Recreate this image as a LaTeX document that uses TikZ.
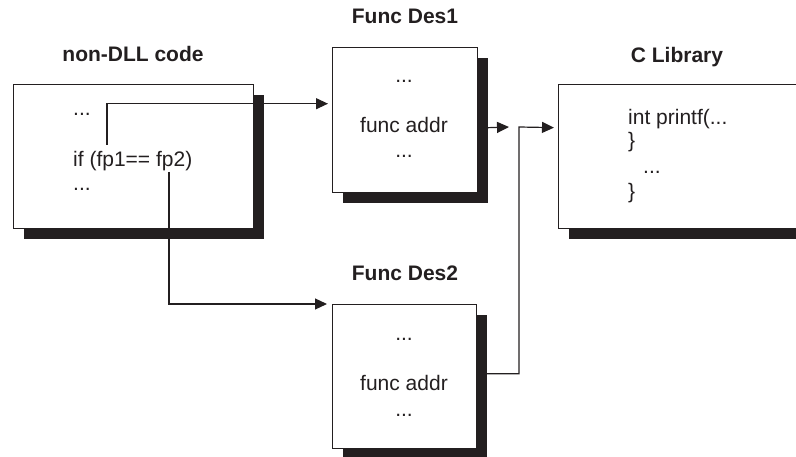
\documentclass[tikz,border=0pt]{standalone}
\usepackage{fontspec}
\setmainfont{Liberation Sans}
\usetikzlibrary{arrows.meta,shadows}
\definecolor{inkdark}{HTML}{231F20}
\tikzset{
  codebox/.style={draw=inkdark, line width=1.4pt, fill=white, anchor=north west, inner sep=0pt,
    drop shadow={shadow xshift=10pt, shadow yshift=-10pt, fill=inkdark, opacity=1}},
  codetext/.style={inner sep=0pt, text=inkdark, font=\fontsize{21}{25}\selectfont},
  boxtitle/.style={inner sep=0pt, text=inkdark, anchor=base, font=\fontsize{21}{25}\selectfont\bfseries},
  conn/.style={draw=inkdark, line width=1.2pt, -{Triangle[length=12pt,width=11pt]}},
}
\begin{document}
\begin{tikzpicture}[x=1pt, y=-1pt]
\useasboundingbox (0,0) rectangle (796,457);
\clip (0,0) rectangle (796,457);
%% boxes
\node [codebox, minimum width=240pt, minimum height=144pt] (code) at (13,84) {};
\node [codebox, minimum width=145pt, minimum height=145pt] (des1) at (332,47) {};
\node [codebox, minimum width=250pt, minimum height=144pt] (clib) at (558,84) {};
\node [codebox, minimum width=144pt, minimum height=144pt] (des2) at (332,304) {};
%% titles
\node [boxtitle] (codetitle) at (133,62) {non-DLL code};
\node [boxtitle] (des1title) at (405,24) {Func Des1};
\node [boxtitle] (clibtitle) at (677,63) {C Library};
\node [boxtitle] (des2title) at (405,281) {Func Des2};
%% non-DLL code
\node [codetext, anchor=base west] (codedotsa) at (73,116) {...};
\node [codetext, anchor=base west] (codeif) at (73,167) {if (fp1== fp2)};
\node [codetext, anchor=base west] (codedotsb) at (73,191) {...};
%% Func Des1
\node [codetext, anchor=base] (des1dotsa) at (404,83) {...};
\node [codetext, anchor=base] (des1addr) at (404,133) {func addr};
\node [codetext, anchor=base] (des1dotsb) at (404,158) {...};
%% C Library
\node [codetext, anchor=base west] (clibint) at (628,125) {int printf(...};
\node [codetext, anchor=base west] (clibbra) at (628,148) {\}};
\node [codetext, anchor=base west] (clibdots) at (643,174) {...};
\node [codetext, anchor=base west] (clibbrb) at (628,199) {\}};
%% Func Des2
\node [codetext, anchor=base] (des2dotsa) at (404,341) {...};
\node [codetext, anchor=base] (des2addr) at (404,390) {func addr};
\node [codetext, anchor=base] (des2dotsb) at (404,416) {...};
%% connectors
\coordinate (fpone) at (107,145);
\coordinate (fptwo) at (169,172);
\coordinate (des1out) at (509,127);
\coordinate (joint) at (519,127);
\draw [conn, shorten >=4pt] (fpone) |- ([yshift=16.5pt]des1.west);
\draw [conn, shorten >=5pt] (fptwo) |- (des2.north west);
\draw [conn] ([xshift=9pt,yshift=-7.5pt]des1.east) -- (des1out);
\draw [conn, shorten >=4pt] ([xshift=9pt,yshift=3pt]des2.east) -| (joint) -- ([yshift=29pt]clib.west);
\end{tikzpicture}
\end{document}
